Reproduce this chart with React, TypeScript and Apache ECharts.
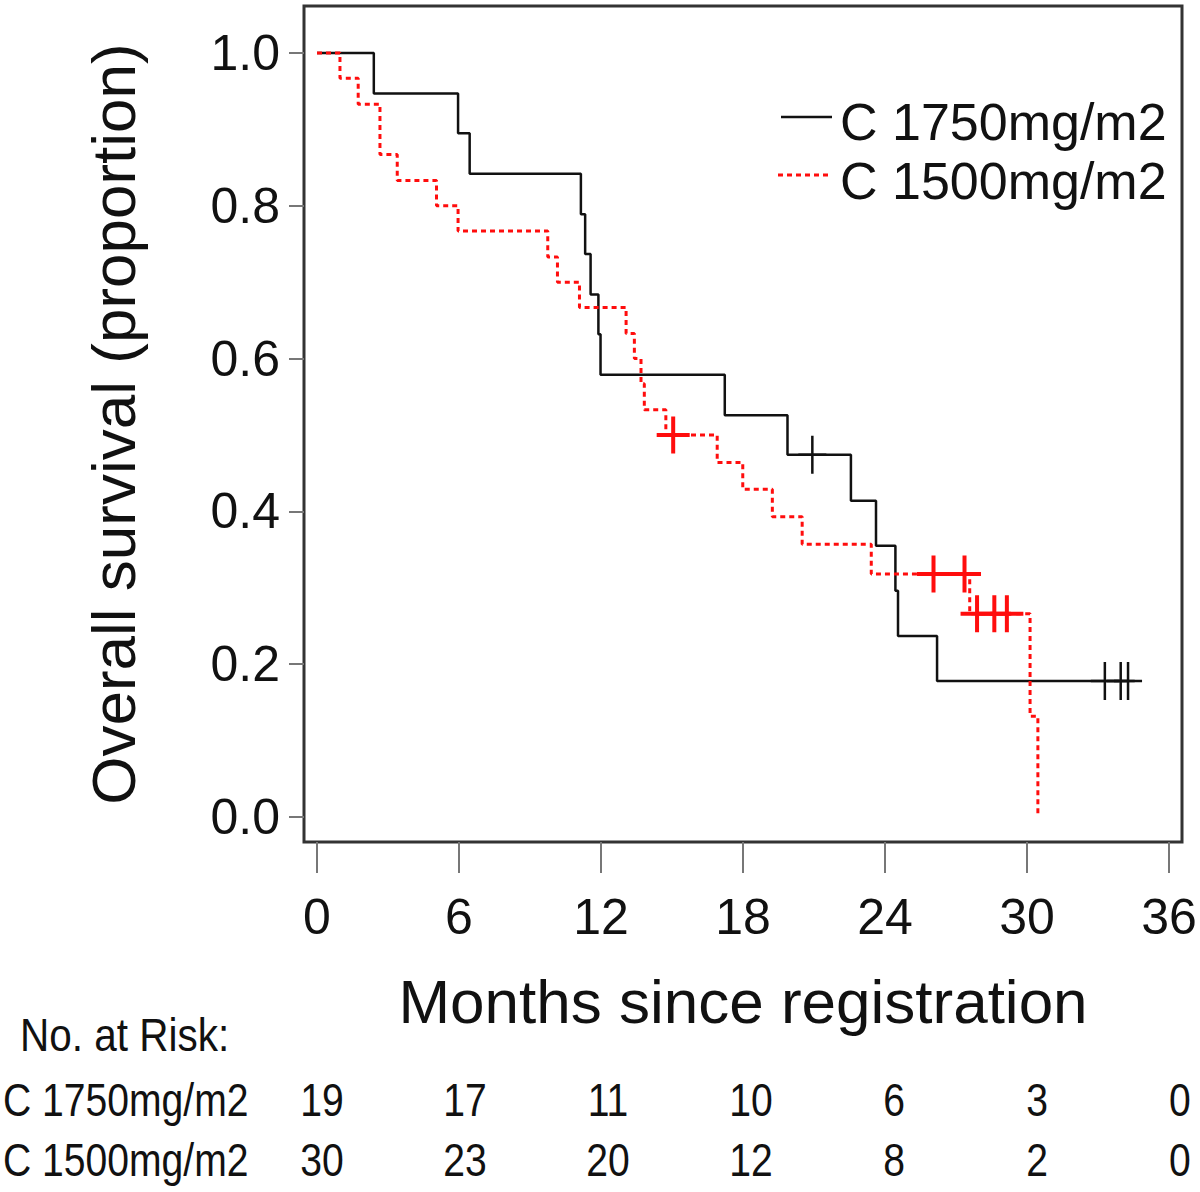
import React, { useEffect, useRef } from "react";
import * as echarts from "echarts";

const FONT = "'Liberation Sans', Arial, Helvetica, sans-serif";

const seriesNames = ["C 1750mg/m2", "C 1500mg/m2"];

// Kaplan-Meier steps, group C 1750mg/m2 (months, survival proportion)
const time1750 = [0, 2.4, 5.96, 6.45, 11.15, 11.33, 11.56, 11.89, 11.98, 17.23, 19.88, 22.56, 23.62, 24.44, 24.55, 26.2, 34.27];
const surv1750 = [1, 0.947, 0.895, 0.842, 0.789, 0.737, 0.684, 0.632, 0.579, 0.526, 0.474, 0.414, 0.355, 0.296, 0.237, 0.178, 0.178];
const censorTime1750 = [20.93, 33.29, 33.96, 34.27];
const censorSurv1750 = [0.474, 0.178, 0.178, 0.178];

// Kaplan-Meier steps, group C 1500mg/m2
const time1500 = [0, 0.97, 1.74, 2.66, 3.39, 5.05, 5.96, 9.75, 10.16, 11.09, 13.06, 13.41, 13.69, 13.83, 14.74, 16.91, 17.99, 19.24, 20.5, 23.42, 27.58, 30.13, 30.46];
const surv1500 = [1, 0.967, 0.933, 0.867, 0.833, 0.8, 0.767, 0.733, 0.7, 0.667, 0.633, 0.6, 0.567, 0.533, 0.5, 0.464, 0.429, 0.393, 0.357, 0.318, 0.266, 0.132, 0.0];
const censorTime1500 = [15.05, 26.05, 27.36, 27.89, 28.62, 29.15];
const censorSurv1500 = [0.5, 0.318, 0.318, 0.266, 0.266, 0.266];

const xTicks = [0, 6, 12, 18, 24, 30, 36];
const yTicks = [0, 0.2, 0.4, 0.6, 0.8, 1.0];

const riskTitle = "No. at Risk:";
const riskTimes = [0, 6, 12, 18, 24, 30, 36];
const risk1750 = [19, 17, 11, 10, 6, 3, 0];
const risk1500 = [30, 23, 20, 12, 8, 2, 0];

const zip = (a: number[], b: number[]) => a.map((v, i) => [v, b[i]]);

const PLUS_BLACK = "path://M12.75,0H15.25V38H12.75Z M0,17.75H28V20.25H0Z";
const PLUS_RED = "path://M14.5,0H18.5V37H14.5Z M0,16.5H33V20.5H0Z";

const RED = "#ff0d0d";

export default function App() {
  const ref = useRef<HTMLDivElement>(null);

  useEffect(() => {
    document.body.style.margin = "0";
    if (!ref.current) return;
    const chart = echarts.init(ref.current, null, { renderer: "svg" });

    const labelStyle = { fontFamily: FONT, fontSize: 50, color: "#111" };

    const option: any = {
      animation: false,
      backgroundColor: "#fff",
      grid: {
        left: 304,
        right: 18,
        top: 6,
        bottom: 350,
        show: true,
        borderColor: "#333",
        borderWidth: 3,
        backgroundColor: "transparent",
      },
      xAxis: {
        type: "value",
        min: -0.55,
        max: 36.55,
        axisLine: { show: false, onZero: false },
        splitLine: { show: false },
        axisTick: { show: true, customValues: xTicks, length: 31, lineStyle: { color: "#777", width: 2 } },
        axisLabel: { customValues: xTicks, margin: 50, lineHeight: 50, ...labelStyle },
        name: "Months since registration",
        nameLocation: "middle",
        nameGap: 159,
        nameTextStyle: { fontFamily: FONT, fontSize: 62, color: "#111", verticalAlign: "middle", lineHeight: 62 },
      },
      yAxis: {
        type: "value",
        min: -0.0327,
        max: 1.0615,
        axisLine: { show: false, onZero: false },
        splitLine: { show: false },
        axisTick: { show: true, customValues: yTicks, length: 15, lineStyle: { color: "#777", width: 2 } },
        axisLabel: {
          customValues: yTicks,
          margin: 24,
          formatter: (v: number) => v.toFixed(1),
          ...labelStyle,
        },
        name: "Overall survival (proportion)",
        nameLocation: "middle",
        nameGap: 191,
        nameRotate: 90,
        nameTextStyle: { fontFamily: FONT, fontSize: 62, color: "#111", verticalAlign: "middle", lineHeight: 62 },
      },
      series: [
        {
          name: seriesNames[0],
          type: "line",
          step: "end",
          symbol: "none",
          data: zip(time1750, surv1750),
          lineStyle: { color: "#111", width: 2.5 },
          z: 2,
        },
        {
          name: seriesNames[1],
          type: "line",
          step: "end",
          symbol: "none",
          data: zip(time1500, surv1500),
          lineStyle: { color: RED, width: 3, type: [5, 4] },
          z: 3,
        },
        {
          name: seriesNames[0] + " censored",
          type: "scatter",
          symbol: PLUS_BLACK,
          symbolSize: [28, 38],
          data: zip(censorTime1750, censorSurv1750),
          itemStyle: { color: "#111", opacity: 1 },
          z: 4,
        },
        {
          name: seriesNames[1] + " censored",
          type: "scatter",
          symbol: PLUS_RED,
          symbolSize: [33, 37],
          data: zip(censorTime1500, censorSurv1500),
          itemStyle: { color: RED, opacity: 1 },
          z: 5,
        },
      ],
    };

    chart.setOption(option);

    const xs = riskTimes.map((t) => chart.convertToPixel({ xAxisIndex: 0 }, t) as number);
    const tableFont = { fontFamily: FONT, fontSize: 46, fill: "#111" };
    const sx = 0.85;

    const graphic: any[] = [
      // legend
      { type: "line", shape: { x1: 781, y1: 117, x2: 832, y2: 117 }, style: { stroke: "#111", lineWidth: 2.5 } },
      {
        type: "text",
        x: 840,
        y: 122,
        style: { text: seriesNames[0], fontFamily: FONT, fontSize: 52, fill: "#111", verticalAlign: "middle", align: "left" },
      },
      {
        type: "line",
        shape: { x1: 778, y1: 175, x2: 830, y2: 175 },
        style: { stroke: RED, lineWidth: 3, lineDash: [5, 4] },
      },
      {
        type: "text",
        x: 840,
        y: 181,
        style: { text: seriesNames[1], fontFamily: FONT, fontSize: 52, fill: "#111", verticalAlign: "middle", align: "left" },
      },
      // at-risk table
      {
        type: "text",
        x: 20,
        y: 1035,
        scaleX: 0.88,
        style: { text: riskTitle, ...tableFont, verticalAlign: "middle", align: "left" },
      },
      {
        type: "text",
        x: 3,
        y: 1100,
        scaleX: sx,
        style: { text: seriesNames[0], ...tableFont, verticalAlign: "middle", align: "left" },
      },
      {
        type: "text",
        x: 3,
        y: 1160,
        scaleX: sx,
        style: { text: seriesNames[1], ...tableFont, verticalAlign: "middle", align: "left" },
      },
    ];
    xs.forEach((px, i) => {
      graphic.push({
        type: "text",
        x: px + 5 + i,
        y: 1100,
        scaleX: sx,
        style: { text: String(risk1750[i]), ...tableFont, verticalAlign: "middle", align: "center" },
      });
      graphic.push({
        type: "text",
        x: px + 5 + i,
        y: 1160,
        scaleX: sx,
        style: { text: String(risk1500[i]), ...tableFont, verticalAlign: "middle", align: "center" },
      });
    });

    chart.setOption({ graphic });

    return () => {
      chart.dispose();
    };
  }, []);

  return <div ref={ref} style={{ width: 1200, height: 1192 }} />;
}
